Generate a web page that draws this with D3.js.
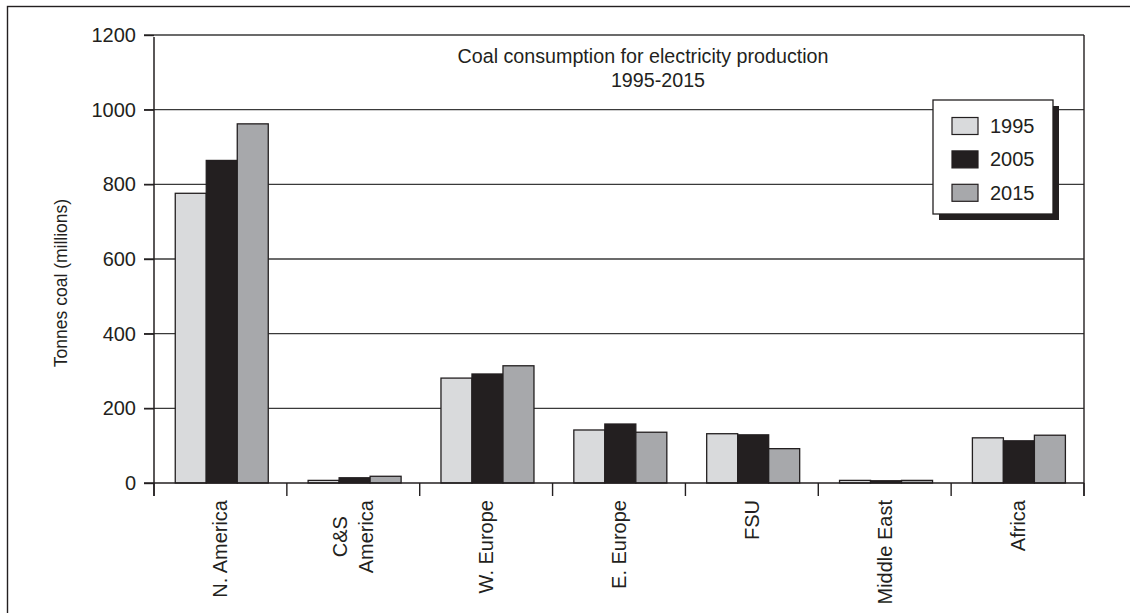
<!DOCTYPE html>
<html>
<head>
<meta charset="utf-8">
<script src="https://cdn.jsdelivr.net/npm/d3@7"></script>
<style>
  html, body { margin: 0; padding: 0; background: #fff; }
  svg { display: block; font-family: "Liberation Sans", Arial, Helvetica, sans-serif; }
</style>
</head>
<body>
<svg id="chart" width="1130" height="613"></svg>
<script>
// ---- data ----
const categories = ["N. America", "C&S\nAmerica", "W. Europe", "E. Europe", "FSU", "Middle East", "Africa"];
const seriesNames = ["1995", "2005", "2015"];
const values1995 = [776, 7, 281, 142, 132, 7, 121];
const values2005 = [864, 14, 292, 158, 129, 6, 113];
const values2015 = [962, 18, 314, 136, 92, 7, 128];
const yTicks = [0, 200, 400, 600, 800, 1000, 1200];
const titleLines = ["Coal consumption for electricity production", "1995-2015"];
const yTitle = "Tonnes coal (millions)";

(function () {
const seriesValues = [values1995, values2005, values2015];
const colors = ["#d9dadc", "#231f20", "#a7a8ab"];
const ink = "#231f20";

const svg = d3.select("#chart");
const pLeft = 154, pRight = 1084, pTop = 35, pBottom = 483;

const x = d3.scaleBand().domain(categories).range([pLeft, pRight]).paddingInner(0).paddingOuter(0);
const xs = d3.scaleBand().domain(seriesNames).range([x.bandwidth() * 0.16, x.bandwidth() * 0.86]).padding(0);
const y = d3.scaleLinear().domain([0, 1200]).range([pBottom, pTop]);

// outer frame
svg.append("rect").attr("x", 7.5).attr("y", 6.5).attr("width", 1140).attr("height", 640)
  .attr("fill", "none").attr("stroke", ink).attr("stroke-width", 1.4);

// gridlines
svg.append("g").selectAll("line").data(yTicks.filter(d => d > 0)).join("line")
  .attr("x1", pLeft - 10).attr("x2", pRight)
  .attr("y1", d => y(d)).attr("y2", d => y(d))
  .attr("stroke", "#3a3a3a").attr("stroke-width", 1.3);

// bars
const groups = svg.append("g").selectAll("g").data(categories).join("g")
  .attr("transform", d => `translate(${x(d)},0)`);
groups.selectAll("rect").data((d, i) => seriesNames.map((s, j) => ({ s, v: seriesValues[j][i], j })))
  .join("rect")
  .attr("x", d => xs(d.s))
  .attr("width", xs.bandwidth())
  .attr("y", d => y(d.v))
  .attr("height", d => y(0) - y(d.v))
  .attr("fill", d => colors[d.j])
  .attr("stroke", ink).attr("stroke-width", 1.3);

// y axis
const yAxis = d3.axisLeft(y).tickValues(yTicks).tickSize(10).tickPadding(8).tickFormat(d3.format("d"));
const ya = svg.append("g").attr("transform", `translate(${pLeft},0)`).call(yAxis);
ya.select(".domain").remove();
ya.selectAll(".tick line").attr("stroke", ink).attr("stroke-width", 1.4);
ya.selectAll(".tick text").attr("font-size", 20).attr("fill", ink)
  .attr("font-family", "Liberation Sans, Arial, sans-serif");
svg.append("line").attr("x1", pLeft).attr("x2", pLeft).attr("y1", pTop + 2).attr("y2", pBottom + 13)
  .attr("stroke", ink).attr("stroke-width", 1.5);

// baseline
svg.append("line").attr("x1", pLeft - 10).attr("x2", pRight).attr("y1", y(0)).attr("y2", y(0))
  .attr("stroke", ink).attr("stroke-width", 1.5);
// right vertical line
svg.append("line").attr("x1", pRight).attr("x2", pRight).attr("y1", pTop).attr("y2", pBottom + 13)
  .attr("stroke", ink).attr("stroke-width", 1.4);

// category ticks (band boundaries)
const boundaries = categories.map(c => x(c)).concat([pRight]);
svg.append("g").selectAll("line").data(boundaries).join("line")
  .attr("x1", d => d).attr("x2", d => d).attr("y1", y(0)).attr("y2", y(0) + 13)
  .attr("stroke", ink).attr("stroke-width", 1.4);

// category labels
const labelTop = 500;
categories.forEach(c => {
  const lines = c.split("\n");
  const cx = x(c) + x.bandwidth() / 2;
  const g = svg.append("g").attr("transform", `translate(${cx},${labelTop}) rotate(-90)`);
  if (lines.length === 1) {
    g.append("text").attr("text-anchor", "end").attr("dy", "0.35em")
      .attr("font-size", 20).attr("fill", ink).text(lines[0]);
  } else {
    const t = g.append("text").attr("font-size", 20).attr("fill", ink).attr("text-anchor", "middle");
    const spans = lines.map((l, i) => t.append("tspan").attr("x", 0)
      .attr("y", (i - (lines.length - 1) / 2) * 26 + 7).text(l));
    const maxLen = d3.max(spans, s => s.node().getComputedTextLength());
    t.selectAll("tspan").attr("x", -maxLen / 2);
  }
});

// y title
svg.append("text").attr("transform", `translate(67,283) rotate(-90)`)
  .attr("text-anchor", "middle").attr("font-size", 17.5).attr("fill", ink).text(yTitle);

// title
svg.append("text").attr("x", 643).attr("y", 63).attr("text-anchor", "middle")
  .attr("font-size", 19.7).attr("fill", ink).text(titleLines[0]);
svg.append("text").attr("x", 658).attr("y", 87).attr("text-anchor", "middle")
  .attr("font-size", 19.7).attr("fill", ink).text(titleLines[1]);

// legend
const lx = 933, ly = 100, lw = 120, lh = 114;
svg.append("rect").attr("x", lx + 6).attr("y", ly + 6).attr("width", lw).attr("height", lh).attr("fill", ink);
svg.append("rect").attr("x", lx).attr("y", ly).attr("width", lw).attr("height", lh)
  .attr("fill", "#fff").attr("stroke", ink).attr("stroke-width", 1.3);
const li = svg.append("g").selectAll("g").data(seriesNames).join("g")
  .attr("transform", (d, i) => `translate(${lx + 19},${ly + 17.5 + i * 33.4})`);
li.append("rect").attr("width", 26).attr("height", 17)
  .attr("fill", (d, i) => colors[i]).attr("stroke", ink).attr("stroke-width", 1.2);
li.append("text").attr("x", 38).attr("y", 8.5).attr("dy", "0.35em")
  .attr("font-size", 20).attr("fill", ink).text(d => d);
})();
</script>
</body>
</html>
